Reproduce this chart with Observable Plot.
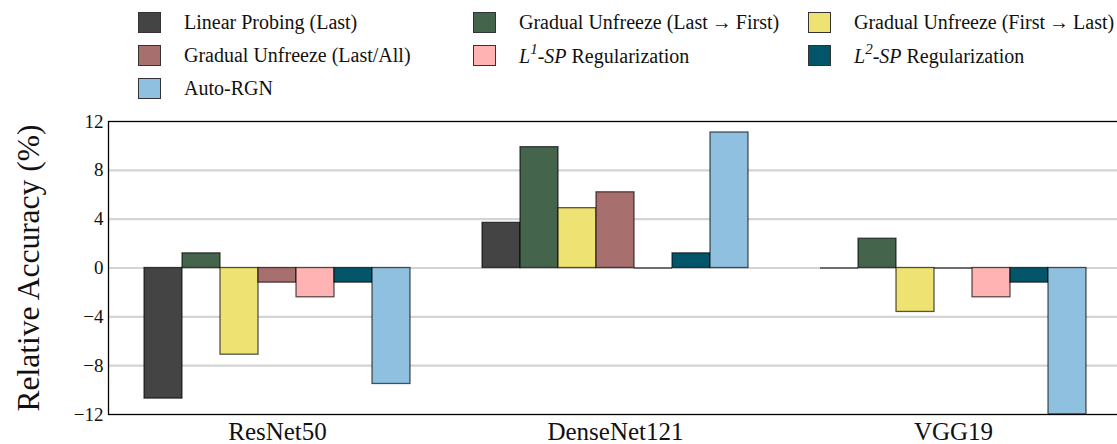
<!DOCTYPE html>
<html>
<head>
<meta charset="utf-8">
<script src="https://cdn.jsdelivr.net/npm/d3@7"></script>
<script src="https://cdn.jsdelivr.net/npm/@observablehq/plot@0.6"></script>
<style>
  html, body { margin: 0; padding: 0; background: #fff; overflow: hidden; width: 1117px; height: 444px; }
  #legend { position: relative; height: 105px; width: 1117px; font-family: "Liberation Serif", serif; font-size: 20px; color: #111; }
  .item { position: absolute; display: flex; align-items: center; height: 24px; white-space: nowrap; }
  .sw { width: 21px; height: 19px; border: 1px solid #333; box-sizing: content-box; margin-right: 23px; }
  #chart { display: block; width: 1117px; height: 339px; overflow: hidden; }
  #chart svg { max-width: none !important; }
</style>
</head>
<body>
<div id="legend"></div>
<div id="chart"></div>
<script>
// ---- data ----
const models = ["ResNet50", "DenseNet121", "VGG19"];
const methods = [
  "Linear Probing (Last)",
  "Gradual Unfreeze (Last\u2009\u2192\u2009First)",
  "Gradual Unfreeze (First\u2009\u2192\u2009Last)",
  "Gradual Unfreeze (Last/All)",
  "L1-SP Regularization",
  "L2-SP Regularization",
  "Auto-RGN"
];
const methodColors = ["#444444", "#44644b", "#eee273", "#a76f6e", "#ffb3b3", "#03566a", "#8fc0df"];
const resnet50 = [-10.7, 1.2, -7.1, -1.2, -2.4, -1.2, -9.5];
const densenet121 = [3.7, 9.9, 4.9, 6.2, 0, 1.2, 11.1];
const vgg19 = [0, 2.4, -3.6, 0, -2.4, -1.2, -12];
const yTicks = [-12, -8, -4, 0, 4, 8, 12];
const yLabel = "Relative Accuracy (%)";

const seriesByModel = [resnet50, densenet121, vgg19];
const data = [];
models.forEach((m, i) => methods.forEach((k, j) => data.push({model: m, method: k, value: seriesByModel[i][j]})));

// ---- legend ----
function labelHTML(s) {
  const m = s.match(/^L(\d)-SP (.*)$/);
  if (m) return `<i>L</i><sup style="font-size:0.75em;position:relative;top:-0.1em"><i>${m[1]}</i></sup>-<i>SP</i> ${m[2]}`;
  return s;
}
const legend = document.getElementById("legend");
methods.forEach((k, i) => {
  const row = Math.floor(i / 3), col = i % 3;
  const el = document.createElement("div");
  el.className = "item";
  el.style.left = (138 + col * 335) + "px";
  el.style.top = (10 + row * 33) + "px";
  el.innerHTML = `<span class="sw" style="background:${methodColors[i]}"></span><span>${labelHTML(k)}</span>`;
  legend.appendChild(el);
});

// ---- chart ----
const chart = Plot.plot({
  width: 1123,
  height: 339,
  marginTop: 16,
  marginBottom: 30,
  marginLeft: 107,
  marginRight: 1,
  style: {fontFamily: "Liberation Serif, serif", background: "white", color: "#111", maxWidth: "none"},
  fx: {domain: models, padding: 0, label: null},
  x: {domain: methods, paddingInner: 0, paddingOuter: 0.87, axis: null},
  y: {domain: [-12, 12], axis: null},
  color: {domain: methods, range: methodColors},
  marks: [
    Plot.ruleY(yTicks.slice(1, -1), {stroke: "#d4d4d4", strokeWidth: 2.2}),
    Plot.barY(data, {fx: "model", x: "method", y: "value", fill: "method", stroke: "#000", strokeOpacity: 0.65, strokeWidth: 1.3, inset: 0}),
    Plot.tickY(data.filter(d => d.value === 0), {fx: "model", x: "method", y: "value", stroke: "#000", strokeOpacity: 0.65, strokeWidth: 1.3}),
    Plot.frame({facet: "super", stroke: "#000", strokeWidth: 1.3}),
    Plot.axisY(yTicks, {tickSize: 0, tickPadding: 5, fontSize: 19, tickFormat: d3.format("d"), label: null}),
    Plot.axisFx({anchor: "bottom", tickSize: 0, tickPadding: 8, fontSize: 25, label: null}),
    Plot.text([yLabel], {frameAnchor: "left", rotate: -90, dx: -80, fontSize: 31.5, textAnchor: "middle", facet: "super", fill: "#111"})
  ]
});
chart.style.maxWidth = "none";
document.getElementById("chart").appendChild(chart);
</script>
</body>
</html>
